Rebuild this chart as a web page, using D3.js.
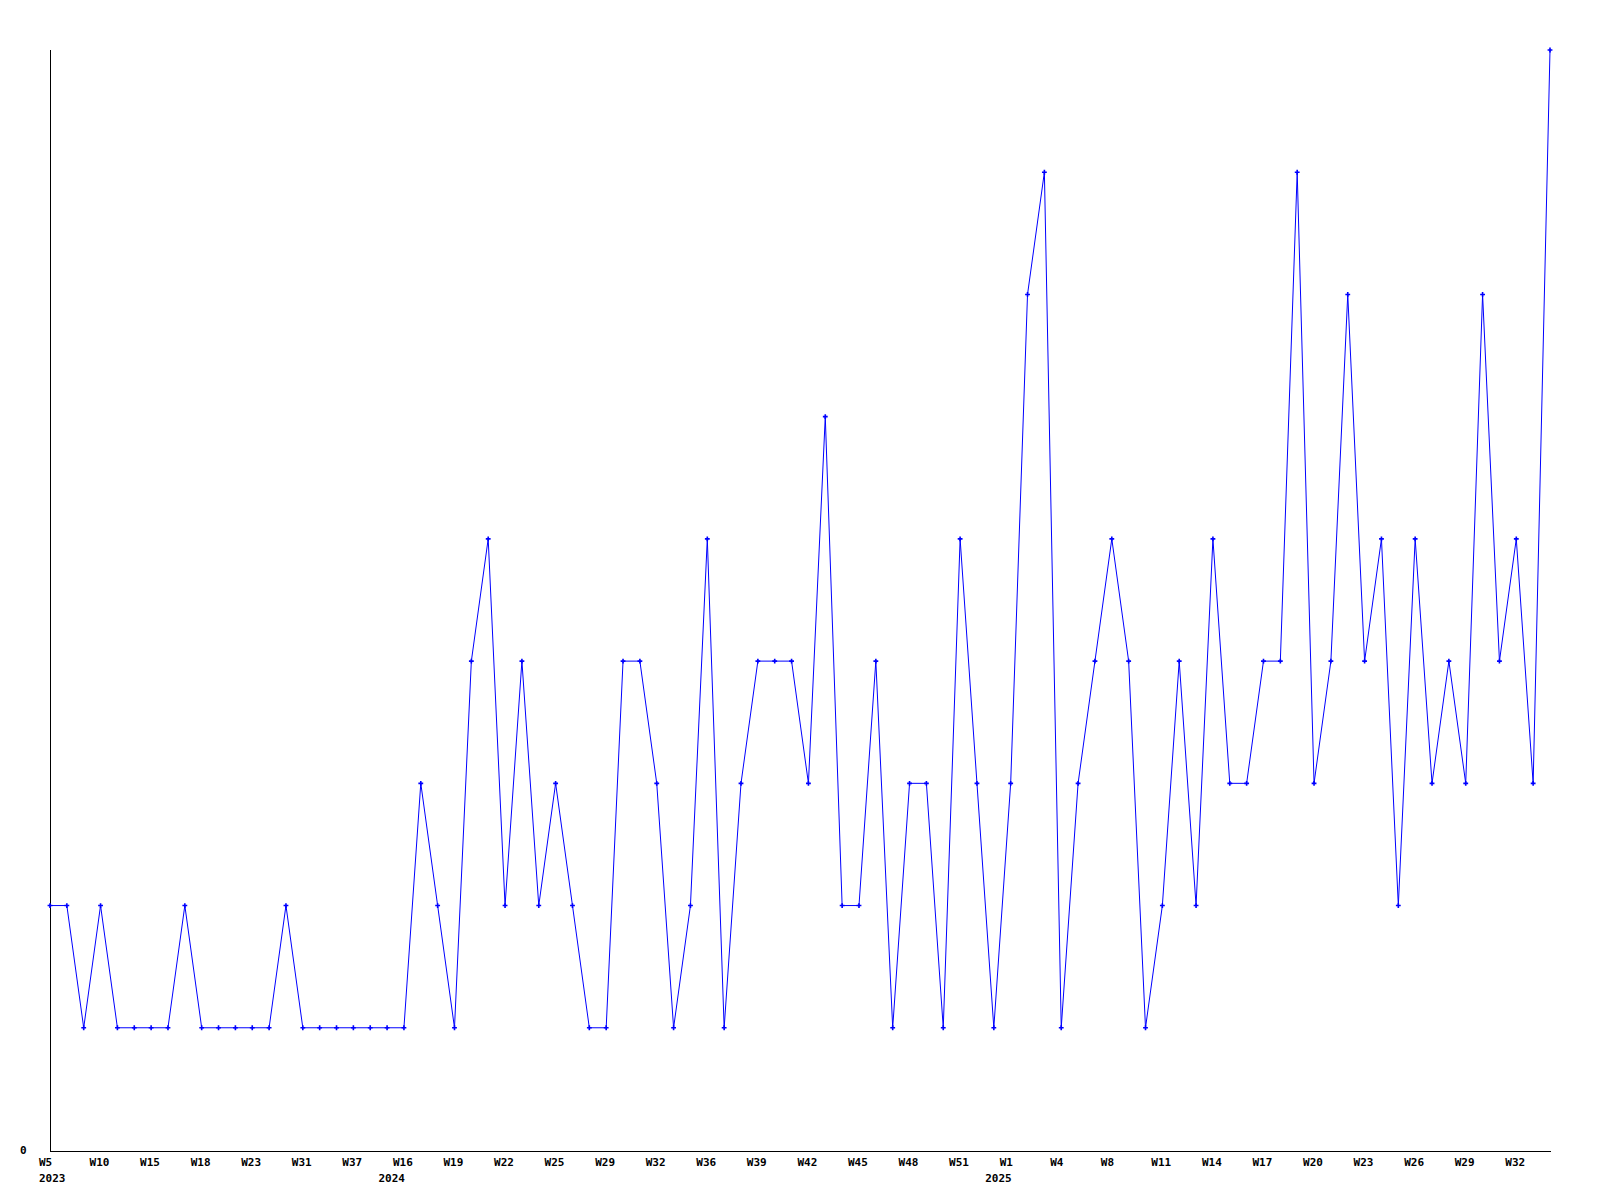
<!DOCTYPE html>
<html>
<head>
<meta charset="utf-8">
<script src="https://cdn.jsdelivr.net/npm/d3@7"></script>
<style>
  html, body { margin: 0; padding: 0; background: #fff; }
  svg { display: block; }
  text { font-family: "DejaVu Sans Mono", "Liberation Mono", monospace; font-weight: bold; font-size: 11px; fill: #000; }
</style>
</head>
<body>
<svg id="chart" width="1600" height="1200"></svg>
<script>
// Week categories (one per data point)
const weeks = [
  "W5","W6","W8","W10","W11","W13","W15","W16","W17","W18","W20","W22","W23","W26","W29","W31","W33","W35","W37","W39","W41",
  "W16","W17","W18","W19","W20","W21","W22","W23","W24","W25","W26","W28","W29","W30","W31","W32","W33","W35","W36","W37","W38","W39","W40","W41","W42","W43","W44","W45","W46","W47","W48","W49","W50","W51","W52","W53",
  "W1","W2","W3","W4","W5","W7","W8","W9","W10","W11","W12","W13","W14","W15","W16","W17","W18","W19","W20","W21","W22","W23","W24","W25","W26","W27","W28","W29","W30","W31","W32","W33","W34"
];
// Year labels, one per run of weeks (a new year starts where the week number drops)
const yearLabels = ["2023", "2024", "2025"];
const values = [
  2,2,1,2,1,1,1,1,2,1,1,1,1,1,2,1,1,1,1,1,1,
  1,3,2,1,4,5,2,4,2,3,2,1,1,4,4,3,1,2,5,1,3,4,4,4,3,6,2,2,4,1,3,3,1,5,3,1,
  3,7,8,1,3,4,5,4,1,2,4,2,5,3,3,4,4,8,3,4,7,4,5,2,5,3,4,3,7,4,5,3,9
];
const yTicks = [0];
const labelEvery = 3;

(function () {
  const svg = d3.select("#chart");
  const mL = 50, mR = 1550, mT = 50, mB = 1150;

  const x = d3.scaleLinear().domain([0, values.length - 1]).range([mL, mR]);
  const y = d3.scaleLinear().domain([0, d3.max(values)]).range([mB, mT]);

  // axes lines
  svg.append("line").attr("x1", mL + 0.5).attr("x2", mL + 0.5).attr("y1", mT).attr("y2", mB + 2)
    .attr("stroke", "#000").attr("stroke-width", 1).attr("shape-rendering", "crispEdges");
  svg.append("line").attr("x1", mL).attr("x2", mR + 1).attr("y1", mB + 1.5).attr("y2", mB + 1.5)
    .attr("stroke", "#000").attr("stroke-width", 1).attr("shape-rendering", "crispEdges");

  // y tick labels
  svg.selectAll("text.ytick").data(yTicks).enter().append("text")
    .attr("class", "ytick").attr("x", 20).attr("y", d => y(d) + 4).text(d => d);

  // x tick labels
  const idx = d3.range(0, values.length, labelEvery);
  svg.selectAll("text.xtick").data(idx).enter().append("text")
    .attr("class", "xtick").attr("x", i => x(i) - 11).attr("y", mB + 16).text(i => weeks[i]);

  // year labels at first point of each year (right-aligned on the point, clamped to the left edge)
  const wn = weeks.map(w => +w.slice(1));
  const yearIdx = wn.map((v, i) => i).filter(i => i === 0 || wn[i] < wn[i - 1]);
  const minStart = x(0) - 11;
  svg.selectAll("text.year").data(yearIdx).enter().append("text")
    .attr("class", "year").attr("y", mB + 32).text((i, k) => yearLabels[k])
    .each(function (i) {
      const w = this.getComputedTextLength();
      this.setAttribute("x", Math.max(x(i) + 1 - w, minStart));
    });

  // line
  const line = d3.line().x((d, i) => x(i)).y(d => y(d));
  svg.append("path").datum(values).attr("d", line)
    .attr("fill", "none").attr("stroke", "#0000ff").attr("stroke-width", 1);

  // markers
  svg.selectAll("path.mk").data(values).enter().append("path")
    .attr("class", "mk")
    .attr("transform", (d, i) => `translate(${x(i)},${y(d)})`)
    .attr("d", d3.symbol().type(d3.symbolCross).size(13))
    .attr("fill", "#0000ff");
})();
</script>
</body>
</html>
